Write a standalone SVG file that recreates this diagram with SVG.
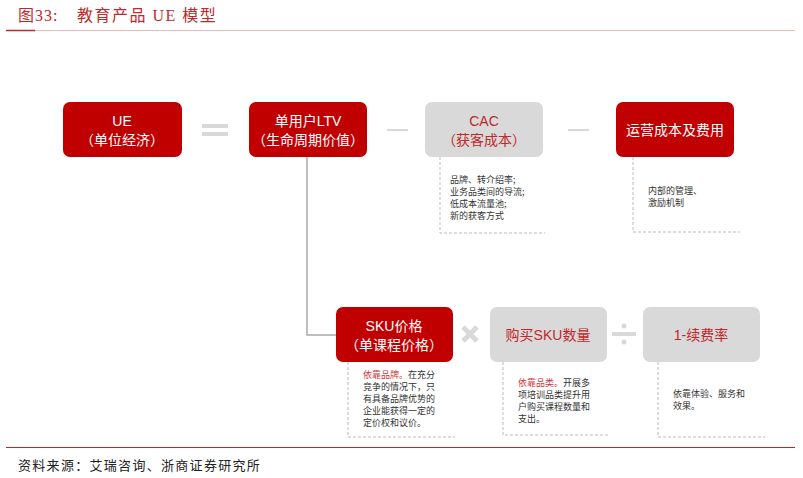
<svg xmlns="http://www.w3.org/2000/svg" width="803" height="478" viewBox="0 0 803 478">
<style>
.r{fill:#c00000}.g{fill:#d9d9d9}
.wt{fill:#fff;font-family:"Liberation Sans","Noto Sans CJK SC",sans-serif;font-size:14px;text-anchor:middle}
.rt{fill:#c0282b;font-family:"Liberation Sans","Noto Sans CJK SC",sans-serif;font-size:14px;text-anchor:middle}
.sm{fill:#333;font-family:"Noto Sans CJK SC",sans-serif;font-size:9px}
.hl{fill:#d0343a}
.dash{fill:none;stroke:#bbb;stroke-width:1;stroke-dasharray:3,2}
.op{stroke:#d9d9d9;stroke-width:4;fill:none}
</style>
<rect width="803" height="478" fill="#fff"/>
<text x="18" y="21" font-family="'Liberation Serif','Noto Sans CJK SC',serif" font-size="16" fill="#c0282b" letter-spacing="1">图33:</text>
<text x="77" y="21" font-family="'Liberation Serif','Noto Sans CJK SC',serif" font-size="16" fill="#c0282b" letter-spacing="1.5">教育产品 UE 模型</text>
<line x1="35" y1="30.5" x2="795" y2="30.5" stroke="#f0b8b8" stroke-width="1"/>
<line x1="6" y1="30.5" x2="35" y2="30.5" stroke="#c0282b" stroke-width="1.5"/>
<line x1="6" y1="447.5" x2="795" y2="447.5" stroke="#c0282b" stroke-width="1.2"/>
<text x="18" y="470" font-family="'Liberation Serif','Noto Sans CJK SC',serif" font-size="13" fill="#222" letter-spacing="1.3">资料来源：艾瑞咨询、浙商证券研究所</text>
<g id="connectors">
<polyline points="307,157 307,335 336,335" fill="none" stroke="#aaa" stroke-width="1.5"/>
<line class="op" x1="202" y1="126" x2="228" y2="126"/><line class="op" x1="202" y1="134" x2="228" y2="134"/>
<line x1="387" y1="130" x2="408" y2="130" stroke="#d9d9d9" stroke-width="2"/>
<line x1="568" y1="130" x2="589" y2="130" stroke="#d9d9d9" stroke-width="2"/>
<path d="M463,327 L477,341 M477,327 L463,341" stroke="#d9d9d9" stroke-width="5"/>
<line x1="612" y1="334" x2="636" y2="334" stroke="#d9d9d9" stroke-width="4"/>
<circle cx="624" cy="326" r="2.5" fill="#d9d9d9"/><circle cx="624" cy="342" r="2.5" fill="#d9d9d9"/>
</g>
<g id="n-ue"><rect class="r" x="63" y="102" width="119" height="55" rx="7"/><text class="wt" x="122" y="126">UE</text><text class="wt" x="122" y="145">（单位经济）</text></g>
<g id="n-ltv"><rect class="r" x="249" y="102" width="118" height="55" rx="7"/><text class="wt" x="308" y="126">单用户LTV</text><text class="wt" x="308" y="145">（生命周期价值）</text></g>
<g id="n-cac"><rect class="g" x="425" y="102" width="118" height="55" rx="7"/><text class="rt" x="484" y="126">CAC</text><text class="rt" x="484" y="145">（获客成本）</text></g>
<g id="n-op"><rect class="r" x="616" y="102" width="118" height="55" rx="7"/><text class="wt" x="675" y="135">运营成本及费用</text></g>
<g id="n-sku"><rect class="r" x="336" y="307" width="117" height="55" rx="7"/><text class="wt" x="394" y="331">SKU价格</text><text class="wt" x="394" y="350">（单课程价格）</text></g>
<g id="n-num"><rect class="g" x="490" y="307" width="117" height="55" rx="7"/><text class="rt" x="548" y="340">购买SKU数量</text></g>
<g id="n-ren"><rect class="g" x="643" y="307" width="117" height="55" rx="7"/><text class="rt" x="701" y="340">1-续费率</text></g>
<g id="notes">
<polyline class="dash" points="440,157 440,233 545,233"/>
<text class="sm" x="450" y="183">品牌、转介绍率;</text><text class="sm" x="450" y="195">业务品类间的导流;</text><text class="sm" x="450" y="207">低成本流量池;</text><text class="sm" x="450" y="219">新的获客方式</text>
<polyline class="dash" points="633,157 633,232 740,232"/>
<text class="sm" x="648" y="194">内部的管理、</text><text class="sm" x="648" y="206">激励机制</text>
<polyline class="dash" points="348,362 348,437 455,437"/>
<text class="sm" x="363" y="378"><tspan class="hl">依靠品牌。</tspan>在充分</text><text class="sm" x="363" y="390">竞争的情况下，只</text><text class="sm" x="363" y="402">有具备品牌优势的</text><text class="sm" x="363" y="414">企业能获得一定的</text><text class="sm" x="363" y="426">定价权和议价。</text>
<polyline class="dash" points="503,362 503,435 610,435"/>
<text class="sm" x="518" y="386"><tspan class="hl">依靠品类。</tspan>开展多</text><text class="sm" x="518" y="398">项培训品类提升用</text><text class="sm" x="518" y="410">户购买课程数量和</text><text class="sm" x="518" y="422">支出。</text>
<polyline class="dash" points="658,362 658,437 765,437"/>
<text class="sm" x="673" y="397">依靠体验、服务和</text><text class="sm" x="673" y="409">效果。</text>
</g>
</svg>
